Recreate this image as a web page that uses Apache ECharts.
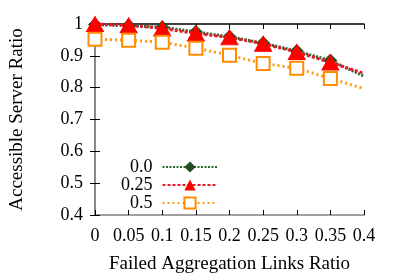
<!DOCTYPE html>
<html><head><meta charset="utf-8">
<script src="https://cdn.jsdelivr.net/npm/echarts@6/dist/echarts.min.js"></script>
<style>html,body{margin:0;padding:0;background:#fff}#c{width:399px;height:279px}</style>
</head><body><div id="c"></div>
<script>
const xValues = [0, 0.05, 0.1, 0.15, 0.2, 0.25, 0.3, 0.35, 0.4];
const seriesNames = ['0.0', '0.25', '0.5'];
const s00 = [0.998, 0.995, 0.99, 0.975, 0.96, 0.94, 0.915, 0.885, 0.836];
const s25 = [1.0, 0.996, 0.986, 0.97, 0.958, 0.938, 0.912, 0.879, 0.845];
const s50 = [0.952, 0.949, 0.943, 0.924, 0.902, 0.876, 0.861, 0.829, 0.797];
const xTicks = [0, 0.05, 0.1, 0.15, 0.2, 0.25, 0.3, 0.35, 0.4];
const yTicks = [0.4, 0.5, 0.6, 0.7, 0.8, 0.9, 1];

const font = 'Liberation Serif';
function pts(arr){
  return arr.map((v,i)=> i === xValues.length-1 ? {value:[xValues[i], v], symbol:'none'} : [xValues[i], v]);
}
const chart = echarts.init(document.getElementById('c'), null, {renderer:'canvas'});
const axisGray = '#808080';
chart.setOption({
  animation:false,
  grid:{left:95, right:35, top:24, bottom:62},
  legend:{
    left:116, top:153, orient:'vertical', align:'right', itemGap:0,
    itemWidth:55, itemHeight:14,
    textStyle:{fontFamily:font, fontSize:18, color:'#000', lineHeight:14, padding:[0,5,0,0]},
    data:seriesNames
  },
  xAxis:[{
    type:'value', min:0, max:0.4, interval:0.05,
    name:'Failed Aggregation Links Ratio', nameLocation:'middle', nameGap:40,
    nameTextStyle:{fontFamily:font, fontSize:19, color:'#000'},
    axisLine:{show:true, lineStyle:{color:axisGray, width:1.5}},
    axisTick:{show:true, inside:true, length:5, lineStyle:{color:'#000'}},
    axisLabel:{fontFamily:font, fontSize:18, color:'#000', margin:12,
      formatter:v=>String(Math.round(v*100)/100)},
    splitLine:{show:false}
  },{
    type:'value', position:'top', min:0, max:0.4, interval:0.05,
    axisLine:{show:true, lineStyle:{color:'#000', width:1.5}},
    axisTick:{show:true, inside:true, length:5, lineStyle:{color:'#000'}},
    axisLabel:{show:false}, splitLine:{show:false}
  }],
  yAxis:[{
    type:'value', min:0.4, max:1, interval:0.1,
    name:'Accessible Server Ratio', nameLocation:'middle', nameGap:68,
    nameTextStyle:{fontFamily:font, fontSize:19, color:'#000'},
    axisLine:{show:true, lineStyle:{color:axisGray, width:1.5}},
    axisTick:{show:true, inside:true, length:5, lineStyle:{color:'#000'}},
    axisLabel:{fontFamily:font, fontSize:18, color:'#000', margin:12,
      formatter:v=>String(Math.round(v*10)/10)},
    splitLine:{show:false}
  },{
    type:'value', position:'right', min:0.4, max:1, interval:0.1,
    axisLine:{show:true, lineStyle:{color:axisGray, width:1.5}},
    axisTick:{show:true, inside:true, length:5, lineStyle:{color:'#000'}},
    axisLabel:{show:false}, splitLine:{show:false}
  }],
  series:[
    {name:seriesNames[0], type:'line', data:pts(s00), clip:false, z:3,
      symbol:'diamond', symbolSize:13,
      itemStyle:{color:'#1e4d1e', borderColor:'#1e4d1e'},
      lineStyle:{color:'#2f6a2f', width:3, type:[2,1.5]}},
    {name:seriesNames[1], type:'line', data:pts(s25), clip:false, z:4,
      symbol:'triangle', symbolSize:[17,15],
      itemStyle:{color:'#ff0000', borderColor:'#ff0000'},
      lineStyle:{color:'#e8182a', width:3, type:[3,2]}},
    {name:seriesNames[2], type:'line', data:pts(s50), clip:false, z:5,
      symbol:'emptyRect', symbolSize:13,
      itemStyle:{color:'#ff8c00', borderColor:'#ff8c00', borderWidth:3},
      lineStyle:{color:'#ff9a10', width:3, type:[2,3]}}
  ]
});
</script></body></html>
